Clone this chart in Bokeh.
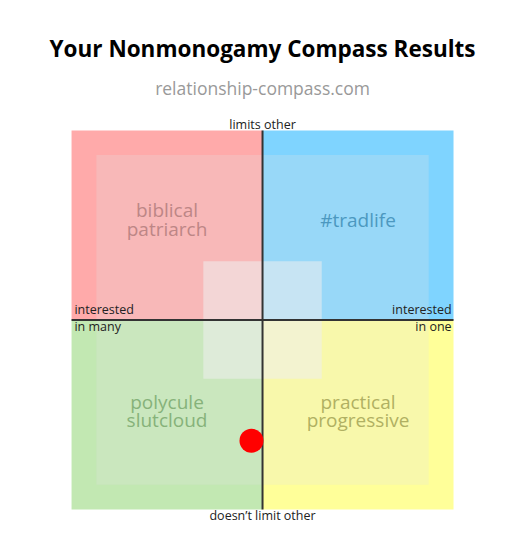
from bokeh.plotting import figure
from bokeh.models import Range1d, Label
from bokeh.embed import file_html
from bokeh.resources import INLINE

# ---- data ----
title_text = "Your Nonmonogamy Compass Results"
subtitle_text = "relationship-compass.com"
quad_names = ["biblical\npatriarch", "#tradlife", "polycule\nslutcloud", "practical\nprogressive"]
quad_left = [-10, 0, -10, 0]
quad_right = [0, 10, 0, 10]
quad_bottom = [0, 0, -10, -10]
quad_top = [10, 10, 0, 0]
quad_colors = ["#FFAAAA", "#7FD4FF", "#C2E8B2", "#FFFF99"]
quad_text_colors = ["#BD8686", "#4C98C0", "#86B27A", "#B0B062"]
quad_label_x = [-5, 5, -5, 5]
quad_label_y = [5.3, 5.3, -4.8, -4.8]
axis_top = "limits other"
axis_bottom = "doesn\u2019t limit other"
axis_left = ["interested", "in many"]
axis_right = ["interested", "in one"]
result_x = [-0.58]
result_y = [-6.37]
inner_half = 8.7
center_half = 3.1

# whole canvas is the frame; chart square spans -10..10
p = figure(width=517, height=533,
           x_range=Range1d(-13.72, 13.35), y_range=Range1d(-11.27, 16.86),
           output_backend="svg", toolbar_location=None, min_border=0)
p.axis.visible = False
p.grid.visible = False
p.outline_line_color = None
p.background_fill_color = "white"
p.border_fill_color = "white"

p.quad(left=quad_left, right=quad_right, bottom=quad_bottom, top=quad_top,
       fill_color=quad_colors, line_color=None)
p.quad(left=[-inner_half], right=[inner_half], bottom=[-inner_half], top=[inner_half],
       fill_color="#E2E2E2", fill_alpha=0.25, line_color=None)
p.quad(left=[-center_half], right=[center_half], bottom=[-center_half], top=[center_half],
       fill_color="#EEEEEE", fill_alpha=0.55, line_color=None)

p.segment(x0=[0, -10], y0=[-10, 0], x1=[0, 10], y1=[10, 0], line_color="#333333", line_width=2)

for name, x, y, c in zip(quad_names, quad_label_x, quad_label_y, quad_text_colors):
    p.add_layout(Label(x=x, y=y, text=name, text_align="center", text_baseline="middle",
                       text_font="Open Sans", text_font_size="19px", text_color=c,
                       text_line_height=0.7))

p.scatter(result_x, result_y, size=24, color="#FF0000", line_color=None)

lab = dict(text_font="Open Sans", text_font_size="12.5px", text_color="#222222")
p.add_layout(Label(x=0, y=9.88, text=axis_top, text_align="center", text_baseline="bottom", **lab))
p.add_layout(Label(x=0, y=-9.85, text=axis_bottom, text_align="center", text_baseline="top", **lab))
p.add_layout(Label(x=-9.85, y=0.1, text=axis_left[0], text_align="left", text_baseline="bottom", **lab))
p.add_layout(Label(x=-9.85, y=0.08, text=axis_left[1], text_align="left", text_baseline="top", **lab))
p.add_layout(Label(x=9.9, y=0.1, text=axis_right[0], text_align="right", text_baseline="bottom", **lab))
p.add_layout(Label(x=9.9, y=0.08, text=axis_right[1], text_align="right", text_baseline="top", **lab))

p.add_layout(Label(x=0, y=14.35, text=title_text, text_align="center", text_baseline="middle",
                   text_font="Open Sans", text_font_style="bold", text_font_size="22.5px",
                   text_color="black"))
p.add_layout(Label(x=0, y=12.25, text=subtitle_text, text_align="center", text_baseline="middle",
                   text_font="Open Sans", text_font_size="17.5px", text_color="#999999"))

open("out.html", "w").write(file_html(p, INLINE))
